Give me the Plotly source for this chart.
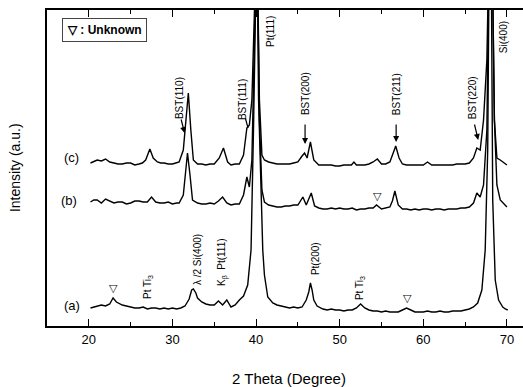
import plotly.graph_objects as go

# ---------------- data (2θ in degrees, intensity in arbitrary units) ----------------
theta_a = [20.2, 20.6, 21.0, 21.5, 22.0, 22.5, 22.9, 23.3, 24.0, 24.5, 25.0, 25.5, 26.0, 26.5, 27.0,
           27.5, 28.0, 28.5, 29.0, 29.5, 30.0, 30.5, 31.0, 31.5, 32.0, 32.3, 32.5, 32.8, 33.0, 33.5,
           34.0, 34.5, 35.0, 35.5, 36.0, 36.5, 37.0, 37.5, 38.0, 38.5, 39.0, 39.4, 39.7, 39.9, 40.1,
           40.3, 40.6, 40.8, 41.0, 41.4, 42.0, 42.5, 43.0, 43.5, 44.0, 44.5, 45.0, 45.5, 46.0, 46.3,
           46.5, 46.7, 46.9, 47.3, 48.0, 48.5, 49.0, 49.5, 50.0, 50.5, 51.0, 51.5, 52.0, 52.5, 53.0,
           53.5, 54.0, 54.5, 55.0, 55.5, 56.0, 56.5, 57.0, 57.5, 58.0, 58.5, 59.0, 59.5, 60.0, 60.5,
           61.0, 61.5, 62.0, 62.5, 63.0, 63.5, 64.0, 64.5, 65.0, 65.5, 66.0, 66.5, 67.0, 67.4, 67.7,
           67.9, 68.1, 68.3, 68.6, 69.0, 69.5, 69.8, 70.1]
int_a = [18, 19, 20, 21, 20, 22, 28, 24, 21, 20, 19, 18, 18, 19, 17,
         18, 18, 17, 18, 17, 18, 17, 18, 20, 27, 36, 37, 33, 28, 24,
         22, 21, 21, 25, 21, 26, 19, 21, 26, 30, 41, 76, 200, 400, 400,
         226, 126, 76, 51, 29, 23, 21, 20, 19, 18, 19, 18, 19, 26, 34,
         43, 36, 26, 20, 17, 16, 17, 16, 16, 15, 16, 16, 18, 22, 18,
         16, 15, 15, 14, 15, 14, 14, 14, 16, 18, 16, 14, 14, 14, 15,
         14, 14, 15, 14, 14, 15, 15, 15, 16, 17, 19, 23, 36, 76, 176,
         400, 400, 126, 46, 26, 19, 17, 16]

theta_b = [20.2, 20.6, 21.0, 21.5, 22.0, 22.5, 23.0, 23.5, 24.0, 24.5, 25.0, 25.5, 26.0, 26.5, 27.0,
           27.5, 28.0, 28.5, 29.0, 29.5, 30.0, 30.5, 30.8, 31.3, 31.6, 31.8, 32.1, 32.4, 33.0, 33.5,
           34.0, 34.5, 35.0, 35.5, 36.0, 36.5, 37.0, 37.5, 38.0, 38.5, 38.9, 39.2, 39.5, 39.8, 40.1,
           40.4, 40.7, 41.0, 41.5, 42.0, 42.5, 43.0, 43.5, 44.0, 44.5, 45.0, 45.6, 46.0, 46.6, 47.0,
           47.5, 48.0, 48.5, 49.0, 49.5, 50.0, 50.5, 51.0, 51.5, 52.0, 52.5, 53.0, 53.5, 54.0, 54.4,
           55.0, 55.5, 56.0, 56.3, 56.6, 57.0, 57.5, 58.0, 58.5, 59.0, 59.5, 60.0, 60.5, 61.0, 61.5,
           62.0, 62.5, 63.0, 63.5, 64.0, 64.5, 65.0, 65.5, 66.0, 66.4, 66.8, 67.2, 67.6, 67.9, 68.2,
           68.5, 68.8, 69.2, 69.6, 70.0]
int_b = [124, 126, 126, 123, 127, 125, 123, 124, 124, 122, 123, 125, 125, 124, 124,
         129, 124, 123, 123, 124, 122, 123, 123, 131, 156, 173, 151, 126, 123, 122,
         122, 123, 122, 125, 129, 123, 121, 122, 122, 131, 149, 139, 166, 400, 400,
         206, 136, 124, 121, 120, 119, 119, 120, 120, 121, 121, 129, 121, 133, 120,
         118, 117, 117, 118, 117, 118, 117, 117, 118, 116, 117, 117, 118, 118, 121,
         117, 118, 119, 125, 135, 121, 117, 117, 116, 117, 116, 117, 117, 116, 117,
         117, 116, 117, 117, 117, 118, 118, 119, 123, 133, 129, 141, 196, 400, 400,
         206, 141, 126, 122, 119]

theta_c = [20.2, 20.5, 21.0, 21.5, 22.0, 22.5, 23.0, 23.5, 24.0, 24.5, 25.0, 25.5, 26.0, 26.4, 26.8,
           27.3, 27.7, 28.2, 28.6, 29.0, 29.5, 30.0, 30.4, 30.8, 31.3, 31.6, 31.9, 32.2, 32.5, 33.0,
           33.5, 34.0, 34.5, 35.0, 35.6, 36.1, 36.6, 37.0, 37.5, 38.0, 38.5, 38.9, 39.2, 39.5, 39.8,
           40.1, 40.4, 40.7, 41.0, 41.5, 42.0, 42.5, 43.0, 43.5, 44.0, 44.5, 45.0, 45.5, 45.8, 46.1,
           46.5, 46.9, 47.5, 48.0, 48.5, 49.0, 49.5, 50.0, 50.5, 51.0, 51.4, 51.7, 52.0, 52.5, 53.0,
           53.5, 54.0, 54.5, 55.0, 55.5, 56.0, 56.4, 56.7, 57.1, 57.5, 58.0, 58.5, 59.0, 59.5, 60.0,
           60.5, 61.0, 61.5, 62.0, 62.5, 63.0, 63.5, 64.0, 64.5, 65.0, 65.5, 66.0, 66.4, 66.8, 67.2,
           67.6, 67.9, 68.2, 68.5, 68.8, 69.2, 69.6, 70.0]
int_c = [163, 164, 166, 165, 167, 164, 163, 162, 162, 163, 163, 161, 162, 163, 166,
         177, 168, 164, 163, 163, 162, 162, 163, 164, 176, 206, 233, 196, 166, 162,
         162, 161, 162, 162, 168, 178, 164, 161, 162, 162, 171, 198, 201, 226, 400,
         400, 226, 171, 166, 164, 163, 162, 162, 162, 162, 163, 164, 170, 173, 168,
         184, 166, 161, 161, 161, 161, 160, 160, 161, 161, 161, 164, 161, 161, 161,
         162, 164, 167, 162, 162, 164, 173, 180, 168, 162, 161, 161, 161, 161, 161,
         164, 161, 161, 161, 161, 161, 161, 162, 162, 162, 163, 168, 178, 176, 206,
         266, 400, 400, 206, 168, 166, 163, 161]

x_ticks = [20, 30, 40, 50, 60, 70]

# ---------------- figure ----------------
fig = go.Figure()
for th, iv, name in [(theta_a, int_a, "(a)"), (theta_b, int_b, "(b)"), (theta_c, int_c, "(c)")]:
    fig.add_trace(go.Scatter(x=th, y=iv, mode="lines", name=name,
                             line=dict(color="black", width=1.4), showlegend=False))

FONT = "Liberation Sans, Arial, sans-serif"
ann = []

def vlabel(x, y, text, size=10):
    ann.append(dict(x=x, y=y, xref="x", yref="y", text=text, showarrow=False, textangle=-90,
                    font=dict(family=FONT, size=size, color="black")))

def arrow(x0, y0, x1, y1, head=2):
    ann.append(dict(x=x1, y=y1, ax=x0, ay=y0, xref="x", yref="y", axref="x", ayref="y",
                    text="", showarrow=True, arrowhead=head, arrowsize=1, arrowwidth=1.2,
                    arrowcolor="black"))

def label(x, y, text, size=11):
    ann.append(dict(x=x, y=y, xref="x", yref="y", text=text, showarrow=False,
                    font=dict(family=FONT, size=size, color="black")))

vlabel(30.79, 228, "BST(110)")
arrow(31.0, 208, 31.45, 193)
vlabel(38.33, 226, "BST(111)")
arrow(38.68, 209, 39.04, 198, head=0)
vlabel(41.67, 294, "Pt(111)")
vlabel(45.86, 232, "BST(200)")
arrow(45.86, 203, 45.86, 182)
vlabel(56.75, 232, "BST(211)")
arrow(56.75, 203, 56.75, 184)
vlabel(65.84, 228, "BST(220)")
arrow(66.08, 203, 66.56, 186)
vlabel(69.55, 289, "Si(400)")

label(22.9, 38, "▽", 11)
vlabel(27.08, 39, "Pt Ti<sub>3</sub>")
vlabel(32.94, 66, "λ /2 Si(400)")
vlabel(35.93, 64, "K<sub>β</sub>  Pt(111)")
vlabel(47.06, 67, "Pt(200)")
vlabel(52.44, 38, "Pt Ti<sub>3</sub>")
label(58.06, 28, "▽", 11)
label(54.47, 130, "▽", 11)

label(17.87, 169, "(c)", 13)
label(17.63, 126, "(b)", 13)
label(17.99, 21, "(a)", 13)

ann.append(dict(x=21.82, y=296, xref="x", yref="y", text="<b>▽ : Unknown</b>", showarrow=False,
                font=dict(family=FONT, size=12, color="black"), bordercolor="#444",
                borderwidth=1, borderpad=4, bgcolor="white"))

# axis titles as paper-positioned text
ann.append(dict(x=-0.067, y=0.5, xref="paper", yref="paper", text="Intensity (a.u.)",
                textangle=-90, showarrow=False, xanchor="center", yanchor="middle",
                font=dict(family=FONT, size=14, color="black")))
ann.append(dict(x=0.508, y=-0.165, xref="paper", yref="paper", text="2 Theta (Degree)",
                showarrow=False, xanchor="center", yanchor="middle",
                font=dict(family=FONT, size=15, color="black")))

fig.update_layout(
    width=523, height=387,
    margin=dict(l=47, r=0, t=10, b=61, autoexpand=False),
    paper_bgcolor="white", plot_bgcolor="white",
    annotations=ann,
    xaxis=dict(range=[15, 71.92], tickmode="array", tickvals=x_ticks, automargin=False,
               ticks="inside", ticklen=7, tickwidth=1.3, tickcolor="black",
               showline=True, linecolor="black", linewidth=1.8, mirror="ticks",
               showgrid=False, zeroline=False,
               minor=dict(tickmode="array", tickvals=[25, 35, 45, 55, 65], ticks="inside",
                          ticklen=4, tickwidth=1.2, tickcolor="black", showgrid=False),
               tickfont=dict(family=FONT, size=13, color="black")),
    yaxis=dict(range=[0, 316], showticklabels=False, ticks="", showgrid=False, zeroline=False,
               automargin=False,
               showline=True, linecolor="black", linewidth=1.8, mirror=False),
)

fig.write_html("out.html", post_script="document.body.style.margin='0';",
               config={"displayModeBar": False})
